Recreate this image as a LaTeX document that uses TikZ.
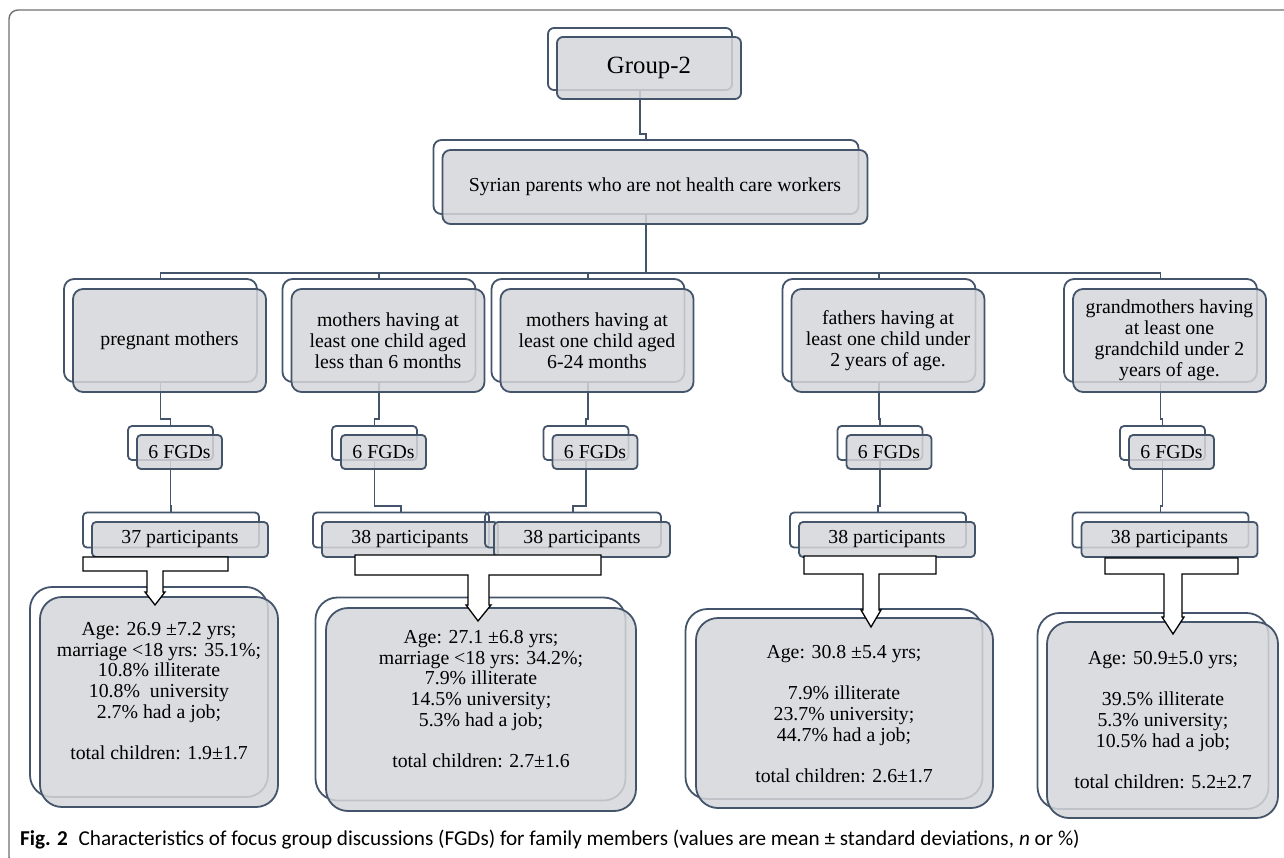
\documentclass[tikz,border=0pt]{standalone}
\usepackage{fontspec}
\setmainfont{Liberation Serif}
\newfontfamily\capfont{Carlito}
\usetikzlibrary{backgrounds}

\definecolor{slate}{HTML}{44546A}
\definecolor{boxgray}{HTML}{D5D6D9}
\definecolor{framegray}{HTML}{707070}

\tikzset{
  backbox/.style={draw=slate, line width=1.8pt, rounded corners=#1, inner sep=0pt},
  frontbox/.style={draw=slate, line width=1.8pt, rounded corners=#1, fill=boxgray,
    fill opacity=0.85, text opacity=1, inner sep=0pt, align=center,
    font=\fontsize{19.8}{21}\selectfont},
  topsize/.style={minimum width=184pt, minimum height=62pt},
  syrsize/.style={minimum width=425pt, minimum height=74pt},
  grpsize/.style={minimum width=193pt, minimum height=103pt},
  fgdsize/.style={minimum width=85pt, minimum height=34pt},
  partsize/.style={minimum width=176pt, minimum height=35pt},
  stattext/.style={align=center, inner sep=0pt, font=\fontsize{19.8}{20.7}\selectfont},
  link/.style={draw=slate, line width=1.3pt},
  blockarrow/.style={draw=black, fill=white, line width=1.3pt, line join=miter},
}

\begin{document}
\begin{tikzpicture}[x=1pt,y=-1pt]
\useasboundingbox (0,0) rectangle (1284,858);

% frame of the figure
\draw[framegray, line width=1.4pt, rounded corners=9pt] (1290,10) -- (9,10) -- (9,866) -- (30,866);

% top of the tree
\node[backbox=6, topsize] (g2b) at (640,59) {};
\node[frontbox=6, topsize, font=\fontsize{24.8}{26}\selectfont] (g2) at (649,68) {Group-2};

\node[backbox=8, syrsize] (syrb) at (646,177) {};
\node[frontbox=8, syrsize] (syr) at (655,187) {Syrian parents who are not health care workers};

% the five groups
\node[backbox=10, grpsize] (grpb1) at (160.5,330.5) {};
\node[frontbox=10, grpsize] (grp1) at (169.5,340.5) {pregnant mothers};
\node[backbox=10, grpsize] (grpb2) at (379,330.5) {};
\node[frontbox=10, grpsize] (grp2) at (388,340.5) {mothers having at\\least one child aged\\less than 6 months};
\node[backbox=10, grpsize] (grpb3) at (588,330.5) {};
\node[frontbox=10, grpsize] (grp3) at (597,340.5) {mothers having at\\least one child aged\\6-24 months};
\node[backbox=10, grpsize] (grpb4) at (879,330.5) {};
\node[frontbox=10, grpsize] (grp4) at (888,340.5) {fathers having at\\least one child under\\2 years of age.};
\node[backbox=10, grpsize] (grpb5) at (1160.5,330.5) {};
\node[frontbox=10, grpsize] (grp5) at (1169.5,340.5) {grandmothers having\\at least one\\grandchild under 2\\years of age.};

% FGDs and participants
\foreach \i/\x in {1/179.5, 2/383.5, 3/595, 4/889, 5/1171.5}{
  \node[backbox=4, fgdsize] (fgdb\i) at (\x-9,443) {};
  \node[frontbox=4, fgdsize] (fgd\i) at (\x,452) {6 FGDs};
}
\foreach \i/\x/\n in {1/180/37, 2/410/38, 3/582/38, 4/887/38, 5/1169.5/38}{
  \node[backbox=4, partsize] (partb\i) at (\x-9,530) {};
  \node[frontbox=4, partsize] (part\i) at (\x,539.5) {\n\ participants};
}

% characteristics
\node[backbox=22, minimum width=238pt, minimum height=210pt] (statb1) at (149,692) {};
\node[frontbox=22, minimum width=238pt, minimum height=210pt] (stat1) at (159,702) {};
\node[backbox=22, minimum width=310pt, minimum height=203pt] (statb2) at (470.5,699) {};
\node[frontbox=22, minimum width=310pt, minimum height=203pt] (stat2) at (481,709.5) {};
\node[backbox=22, minimum width=297pt, minimum height=190pt] (statb3) at (834,704) {};
\node[frontbox=22, minimum width=297pt, minimum height=190pt] (stat3) at (844.5,713) {};
\node[backbox=22, minimum width=231pt, minimum height=196pt] (statb4) at (1153,711) {};
\node[frontbox=22, minimum width=231pt, minimum height=196pt] (stat4) at (1162.5,720) {};

\node[stattext] (txt1) at (159,691) {Age: 26.9 ±7.2 yrs;\\marriage <18 yrs: 35.1\%;\\10.8\% illiterate\\10.8\%\ \ university\\2.7\% had a job;\\[20.7pt]total children: 1.9±1.7};
\node[stattext] (txt2) at (481,699) {Age: 27.1 ±6.8 yrs;\\marriage <18 yrs: 34.2\%;\\7.9\% illiterate\\14.5\% university;\\5.3\% had a job;\\[20.7pt]total children: 2.7±1.6};
\node[stattext] (txt3) at (844,714) {Age: 30.8 ±5.4 yrs;\\[20.7pt]7.9\% illiterate\\23.7\% university;\\44.7\% had a job;\\[20.7pt]total children: 2.6±1.7};
\node[stattext] (txt4) at (1163,720) {Age: 50.9±5.0 yrs;\\[20.7pt]39.5\% illiterate\\5.3\% university;\\10.5\% had a job;\\[20.7pt]total children: 5.2±2.7};

% connectors behind the boxes
\begin{pgfonlayer}{background}
\draw[link] (g2b.south) -- ++(0,43) -| (syrb.north);
\foreach \i in {1,...,5}{
  \draw[link] (syrb.south) -- ++(0,58) -| (grpb\i.north);
  \draw[link] (grpb\i.south) -- ++(0,36) -| (fgdb\i.north);
  \draw[link] (fgdb\i.south) -- ++(0,45) -| (partb\i.north);
}
\end{pgfonlayer}

% block arrows down to the characteristics
\draw[blockarrow] (83,557) -- (228,557) -- (228,571) -- (163,571) -- (163,592) -- (165,592) -- (155,605) -- (145,592) -- (147,592) -- (147,571) -- (83,571) -- cycle;
\draw[blockarrow] (355,555) -- (601,555) -- (601,575) -- (489,575) -- (489,605) -- (491,605) -- (478,621) -- (466,605) -- (468,605) -- (468,575) -- (355,575) -- cycle;
\draw[blockarrow] (804,556) -- (936,556) -- (936,574) -- (879,574) -- (879,610) -- (881,610) -- (871,627) -- (861,610) -- (863,610) -- (863,574) -- (804,574) -- cycle;
\draw[blockarrow] (1105,558) -- (1238,558) -- (1238,574) -- (1182,574) -- (1182,617) -- (1184,617) -- (1173,634) -- (1162,617) -- (1164,617) -- (1164,574) -- (1105,574) -- cycle;

% caption
\node[anchor=base west, inner sep=0pt, font=\capfont\fontsize{21.2}{23}\selectfont] (cap) at (20,845)
  {\textbf{Fig. 2}\enspace Characteristics of focus group discussions (FGDs) for family members (values are mean ± standard deviations, \textit{n} or \%)};
\end{tikzpicture}
\end{document}
